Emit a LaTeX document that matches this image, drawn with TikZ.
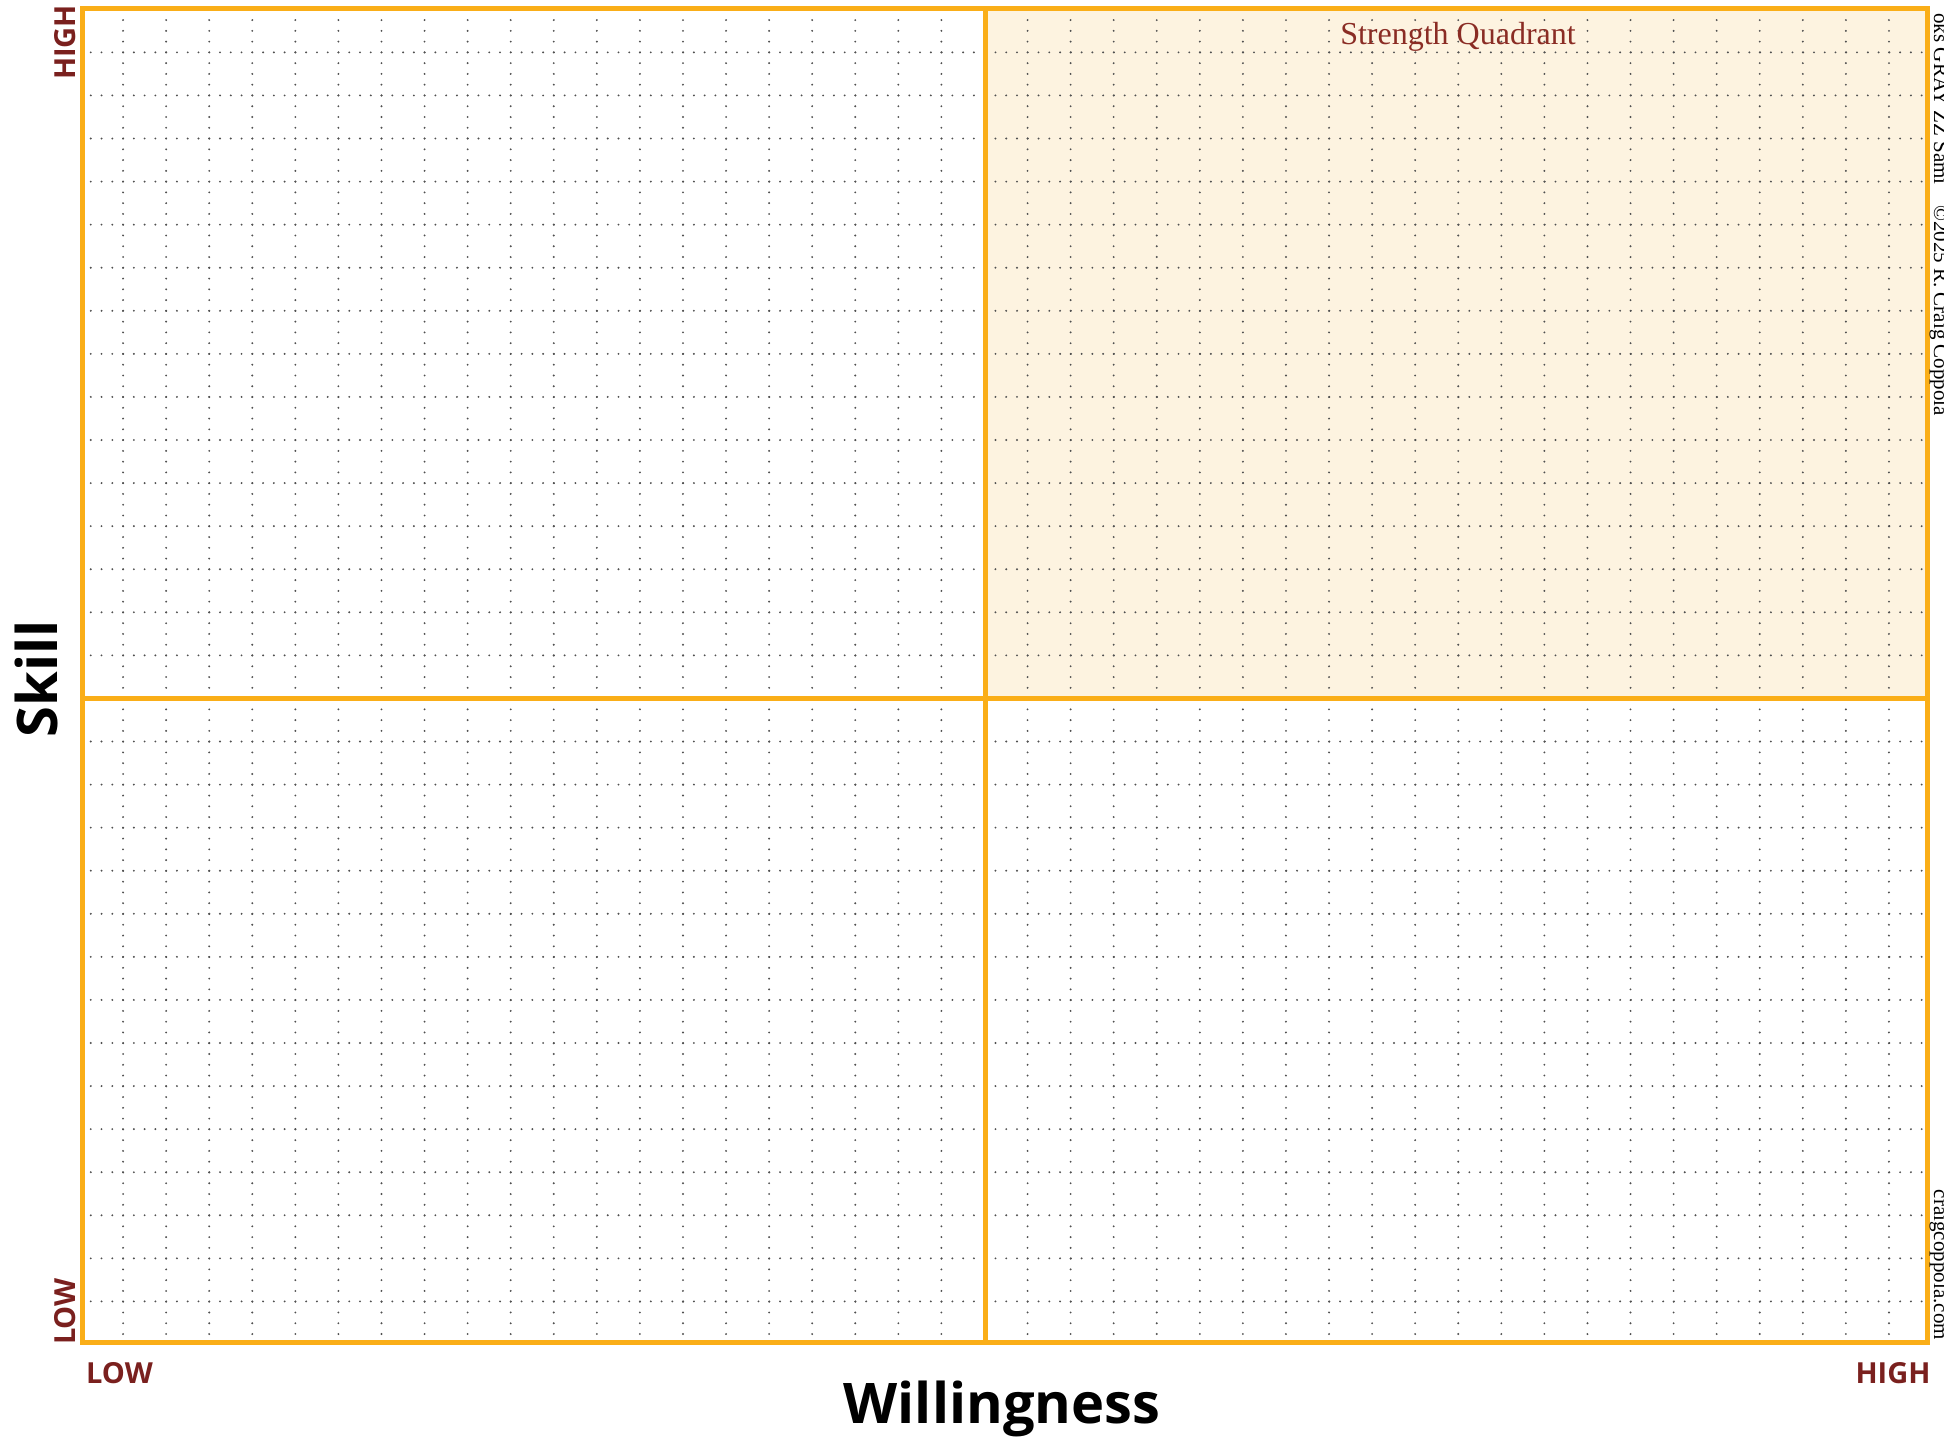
\documentclass[tikz,border=0pt]{standalone}
\usepackage{fontspec}
\setmainfont{Liberation Serif}
\newfontfamily\labfont{Open Sans}
\definecolor{frameor}{RGB}{250,174,24}
\definecolor{quadfill}{RGB}{253,243,224}
\definecolor{darkred}{RGB}{122,32,30}
\definecolor{quadtext}{RGB}{138,44,36}
\definecolor{dotgray}{RGB}{80,80,80}
\tikzset{
  dotline/.style={dotgray, line width=2.1pt, line cap=round, dash pattern=on 0pt off 10.77pt},
  frameline/.style={frameor, line width=5pt},
  axlabel/.style={inner sep=0pt, text=darkred, font=\labfont\bfseries\fontsize{29}{30}\selectfont},
  bigaxis/.style={inner sep=0pt, text=black, font=\labfont\bfseries\fontsize{56}{60}\selectfont},
  credit/.style={inner sep=0pt, text=black, font=\fontsize{21}{22}\selectfont}
}
\begin{document}
\begin{tikzpicture}[x=1pt,y=1pt]
\useasboundingbox (0,0) rectangle (1944,-1436);
\fill[white] (0,0) rectangle (1944,-1436);
% shaded quadrant
\fill[quadfill] (985,-8) rectangle (1927,-698);
% dotted grid
\begin{scope}
\clip (82,-8) rectangle (1927,-1342);
\foreach \k in {0,...,31} \draw[dotline] (80,{-9.3-43.07*\k}) -- (1935,{-9.3-43.07*\k});
\foreach \k in {0,...,43} \draw[dotline] ({80+43.07*\k},-9.3) -- ({80+43.07*\k},-1350);
\end{scope}
% frame and quadrant dividers
\coordinate (tl) at (82,-8);
\coordinate (br) at (1927,-1342);
\coordinate (mt) at (985,-8);
\coordinate (mb) at (985,-1342);
\coordinate (ml) at (82,-698);
\coordinate (mr) at (1927,-698);
\draw[frameline] (tl) rectangle (br);
\draw[frameline] (mt) -- (mb);
\draw[frameline] (ml) -- (mr);
% labels
\node[quadtext, inner sep=0pt, anchor=base, font=\fontsize{32}{34}\selectfont] (sq) at (1458,-44) {Strength Quadrant};
\node[axlabel, rotate=90, anchor=base] (yhigh) at (75,-42.5) {HIGH};
\node[axlabel, rotate=90, anchor=base] (ylow) at (75,-1311.5) {LOW};
\node[axlabel, anchor=base] (xlow) at (119.5,-1383) {LOW};
\node[axlabel, anchor=base] (xhigh) at (1893,-1383) {HIGH};
\node[bigaxis, rotate=90, anchor=base] (skill) at (57,-679) {Skill};
\node[bigaxis, anchor=base] (will) at (1002,-1423) {Willingness};
% credits on right edge
\node[credit, rotate=-90, anchor=base east] (c1) at (1934,-185) {oks GRAY ZZ Sami};
\node[credit, rotate=-90, anchor=base west] (c2) at (1934,-205) {\textcopyright2025 R. Craig Coppola};
\node[credit, rotate=-90, anchor=base east] (c3) at (1934,-1340) {craigcoppola.com};
\end{tikzpicture}
\end{document}
